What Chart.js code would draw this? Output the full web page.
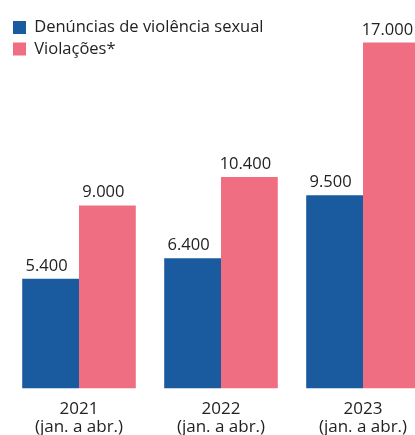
<!DOCTYPE html>
<html>
<head>
<meta charset="utf-8">
<script src="https://cdn.jsdelivr.net/npm/chart.js@4.4.0/dist/chart.umd.min.js"></script>
<style>
  html, body { margin: 0; padding: 0; background: #fff; overflow: hidden; }
  #wrap { width: 415px; height: 435px; overflow: hidden; }
</style>
</head>
<body>
<div id="wrap"><canvas id="chart" width="440" height="448"></canvas></div>
<script>
const years = ['2021', '2022', '2023'];
const period = '(jan. a abr.)';
const denuncias = [5400, 6400, 9500];
const violacoes = [9000, 10400, 17000];
const seriesNames = ['Denúncias de violência sexual', 'Violações*'];

const FONT = '"Open Sans", sans-serif';

// thousands with a dot, as in the original
function fmt(v) {
    return String(v).replace(/\B(?=(\d{3})+(?!\d))/g, '.');
}

// value labels above each bar
const valueLabels = {
    id: 'valueLabels',
    afterDatasetsDraw(chart) {
        const ctx = chart.ctx;
        ctx.save();
        ctx.font = '16.5px ' + FONT;
        ctx.fillStyle = '#222';
        ctx.textAlign = 'center';
        ctx.textBaseline = 'alphabetic';
        chart.data.datasets.forEach((ds, i) => {
            chart.getDatasetMeta(i).data.forEach((bar, j) => {
                ctx.fillText(fmt(ds.data[j]), bar.x - 4, bar.y - 8);
            });
        });
        ctx.restore();
    }
};

const ctx = document.getElementById('chart').getContext('2d');
const chart = new Chart(ctx, {
    type: 'bar',
    data: {
        labels: years.map(y => [y, period]),
        datasets: [{
            label: seriesNames[0],
            data: denuncias,
            backgroundColor: '#1a5a9f'
        },
        {
            label: seriesNames[1],
            data: violacoes,
            backgroundColor: '#f06e81'
        }]
    },
    options: {
        responsive: false,
        animation: false,
        layout: {
            padding: { left: 8, right: 6, top: 11, bottom: 0 }
        },
        datasets: {
            bar: {
                categoryPercentage: 0.8,
                barPercentage: 1.0
            }
        },
        plugins: {
            legend: {
                position: 'chartArea',
                align: 'start',
                // empty title only pushes the legend rows down
                title: {
                    display: true,
                    text: '',
                    font: { size: 1 },
                    padding: { top: 13, bottom: 0 }
                },
                labels: {
                    boxWidth: 13,
                    boxHeight: 13,
                    padding: 5,
                    color: '#222',
                    font: { family: FONT, size: 16.5 }
                }
            },
            tooltip: { enabled: false }
        },
        scales: {
            y: {
                display: false,
                min: 0,
                max: 18550
            },
            x: {
                grid: { display: false, drawTicks: false },
                border: { display: false },
                ticks: {
                    color: '#222',
                    padding: 11,
                    font: { family: FONT, size: 17, lineHeight: 1.1 }
                }
            }
        }
    },
    plugins: [valueLabels]
});
</script>
</body>
</html>
